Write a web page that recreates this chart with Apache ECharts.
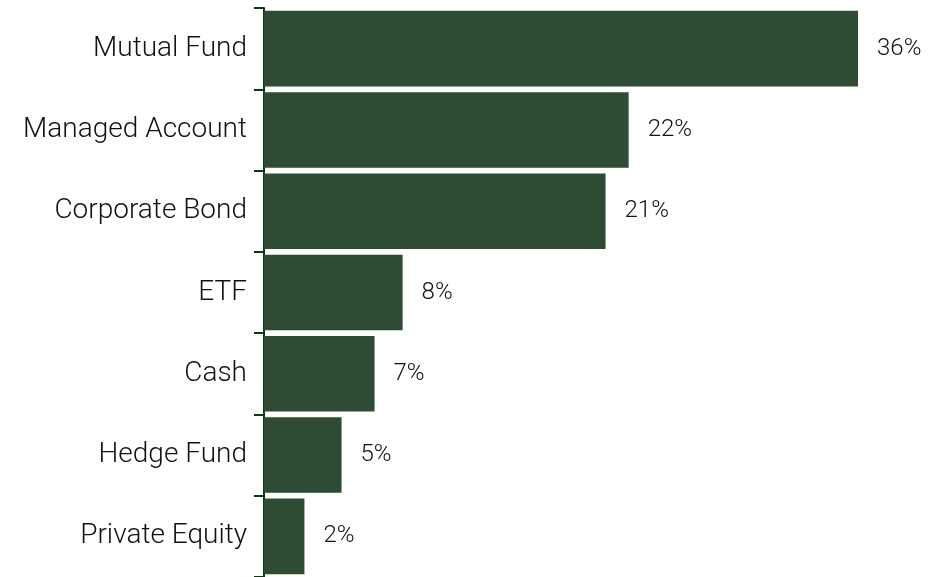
<!DOCTYPE html>
<html>
<head>
<meta charset="utf-8">
<script src="https://cdn.jsdelivr.net/npm/echarts@6/dist/echarts.min.js"></script>
<style>
  html, body { margin: 0; padding: 0; background: #fff; }
  #chart { width: 939px; height: 577px; }
</style>
</head>
<body>
<div id="chart"></div>
<script>
// categories top to bottom
const categories = ['Mutual Fund', 'Managed Account', 'Corporate Bond', 'ETF', 'Cash', 'Hedge Fund', 'Private Equity'];
// share of assets, percent
const shares = [36.0, 22.1, 20.7, 8.4, 6.7, 4.7, 2.45];

const barColor = '#2e4b33';
const axisColor = '#0b3a12';

const chart = echarts.init(document.getElementById('chart'));

chart.setOption({
  animation: false,
  grid: {
    left: 264,
    right: 15,
    top: 8,
    bottom: -3,
    containLabel: false
  },
  xAxis: {
    type: 'value',
    min: 0,
    max: 40,
    show: false
  },
  yAxis: {
    type: 'category',
    data: categories,
    inverse: true,
    axisLine: { show: true, lineStyle: { color: axisColor, width: 2 } },
    axisTick: { show: true, length: 10, lineStyle: { color: axisColor, width: 2 } },
    axisLabel: {
      margin: 17,
      color: '#111',
      fontFamily: 'Roboto',
      fontWeight: 300,
      fontSize: 28
    }
  },
  series: [{
    type: 'bar',
    data: shares,
    barCategoryGap: '7%',
    itemStyle: { color: barColor },
    label: {
      show: true,
      position: 'right',
      distance: 19,
      color: '#111',
      fontFamily: 'Roboto',
      fontWeight: 300,
      fontSize: 24,
      formatter: p => Math.round(p.value) + '%'
    }
  }]
});
</script>
</body>
</html>
